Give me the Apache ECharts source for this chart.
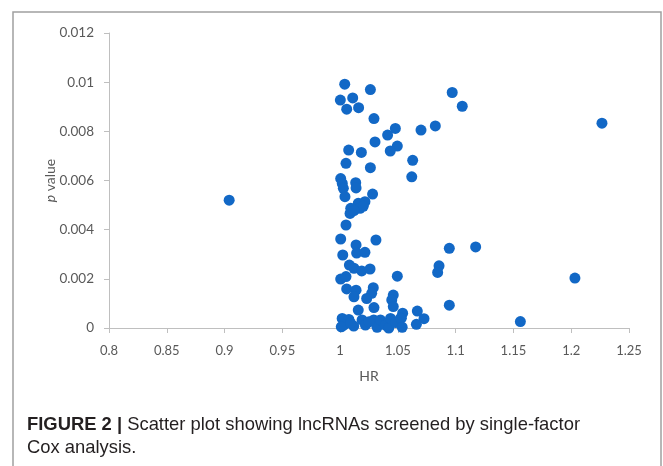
<!DOCTYPE html>
<html>
<head>
<meta charset="utf-8">
<script src="https://cdn.jsdelivr.net/npm/echarts@6/dist/echarts.min.js"></script>
<style>
html,body{margin:0;padding:0;background:#fff;}
#chart{width:663px;height:466px;}
</style>
</head>
<body>
<div id="chart"></div>
<script>
// HR values (x) and p values (y)
const hrValues = [
  0.904, 1.2266, 1.2032, 1.1560, 1.1173, 1.0945, 1.0945, 1.0856, 1.0844, 1.0970,
  1.1057, 1.0824, 1.0700, 1.0628, 1.0620, 1.0668, 1.0726, 1.0660, 1.0495,
  1.0040, 1.0262, 1.0002, 1.0109, 1.0057, 1.0160, 1.0293, 1.0478, 1.0411, 1.0302,
  1.0495, 1.0434, 1.0074, 1.0184, 1.0051, 1.0262,
  1.0005, 1.0019, 1.0028, 1.0135, 1.0138, 1.0042, 1.0281, 1.0157, 1.0215, 1.0092,
  1.0086, 1.0172, 1.0200, 1.0120, 1.0051, 1.0005, 1.0310, 1.0138, 1.0143, 1.0215,
  1.0023, 1.0080, 1.0120, 1.0187, 1.0259, 1.0005, 1.0051, 1.0057, 1.0138, 1.0120,
  1.0287, 1.0273, 1.0230, 1.0460, 1.0447, 1.0293, 1.0460, 1.0157, 1.0541, 1.0530,
  1.0018, 1.0076, 1.0032, 1.0118, 1.0190, 1.0219, 1.0291, 1.0320, 1.0349, 1.0392,
  1.0421, 1.0436, 1.0479, 1.0522, 1.0537, 1.0010, 1.0090, 1.0250
];
const pValues = [
  0.00520, 0.00833, 0.00203, 0.00026, 0.00330, 0.00324, 0.00093, 0.00253, 0.00226, 0.00958,
  0.00902, 0.00822, 0.00805, 0.00682, 0.00615, 0.00069, 0.00038, 0.00015, 0.00211,
  0.00992, 0.00970, 0.00927, 0.00936, 0.00890, 0.00896, 0.00852, 0.00812, 0.00785, 0.00757,
  0.00740, 0.00720, 0.00724, 0.00714, 0.00670, 0.00652,
  0.00608, 0.00588, 0.00568, 0.00591, 0.00570, 0.00534, 0.00545, 0.00507, 0.00514, 0.00487,
  0.00466, 0.00487, 0.00495, 0.00478, 0.00419, 0.00362, 0.00358, 0.00338, 0.00305, 0.00308,
  0.00297, 0.00256, 0.00243, 0.00232, 0.00240, 0.00199, 0.00209, 0.00159, 0.00154, 0.00127,
  0.00164, 0.00141, 0.00120, 0.00134, 0.00114, 0.00083, 0.00087, 0.00073, 0.00060, 0.00040,
  0.00039, 0.00035, 0.00012, 0.00008, 0.00033, 0.00012, 0.00033, 0.00003, 0.00033, 0.00012,
  0.00000, 0.00039, 0.00022, 0.00039, 0.00003, 0.00005, 0.00020, 0.00025
];
const xTicks = {min: 0.8, max: 1.25, step: 0.05};
const yTicks = {min: 0, max: 0.012, step: 0.002};
const xName = 'HR';
const yName = '{i|p} value';
const captionBold = 'FIGURE 2 |';
const captionLine1 = 'Scatter plot showing lncRNAs screened by single-factor';
const captionLine2 = 'Cox analysis.';

const points = hrValues.map((x, i) => [x, pValues[i]]);
const chart = echarts.init(document.getElementById('chart'));
const axisColor = '#bfbfbf';
const labelColor = '#595959';
const labelFont = 'Lato, "Open Sans", sans-serif';
const capFont = '"Liberation Sans", Arial, sans-serif';
chart.setOption({
  animation: false,
  grid: {left: 109, right: 34, top: 33, bottom: 138},
  xAxis: {
    type: 'value', min: xTicks.min, max: xTicks.max, interval: xTicks.step,
    name: xName, nameLocation: 'middle', nameGap: 41, nameMoveOverlap: false,
    nameTextStyle: {color: labelColor, fontSize: 14, fontFamily: labelFont},
    axisLine: {show: true, lineStyle: {color: axisColor, width: 1}},
    axisTick: {show: true, length: 5, lineStyle: {color: axisColor}},
    splitLine: {show: false},
    axisLabel: {color: labelColor, fontSize: 13, fontFamily: labelFont, margin: 16,
      formatter: v => String(parseFloat(v.toFixed(2)))}
  },
  yAxis: {
    type: 'value', min: yTicks.min, max: yTicks.max, interval: yTicks.step,
    name: yName, nameLocation: 'middle', nameGap: 52, nameRotate: 90, nameMoveOverlap: false,
    nameTextStyle: {color: labelColor, fontSize: 14, fontFamily: labelFont,
      rich: {i: {fontStyle: 'italic', color: labelColor, fontSize: 14, fontFamily: labelFont}}},
    axisLine: {show: true, lineStyle: {color: axisColor, width: 1}},
    axisTick: {show: true, length: 5, lineStyle: {color: axisColor}},
    splitLine: {show: false},
    axisLabel: {color: labelColor, fontSize: 13.5, fontFamily: labelFont, margin: 15,
      formatter: v => String(parseFloat(v.toFixed(3)))}
  },
  series: [{
    type: 'scatter', data: points, symbolSize: 11,
    itemStyle: {color: '#1268c6', opacity: 1}
  }],
  graphic: [
    {type: 'rect', shape: {x: 13, y: 12, width: 648, height: 480},
     style: {fill: 'none', stroke: '#a0a0a0', lineWidth: 1.5}, silent: true},
    {type: 'text', left: 27, top: 413,
     style: {text: '{b|' + captionBold + '} ' + captionLine1 + '\n' + captionLine2,
       font: '18.4px ' + capFont, fill: '#231f20', lineHeight: 23,
       rich: {b: {fontWeight: 'bold', fontSize: 18.4, fontFamily: capFont, fill: '#231f20'}}}}
  ]
});
</script>
</body>
</html>
